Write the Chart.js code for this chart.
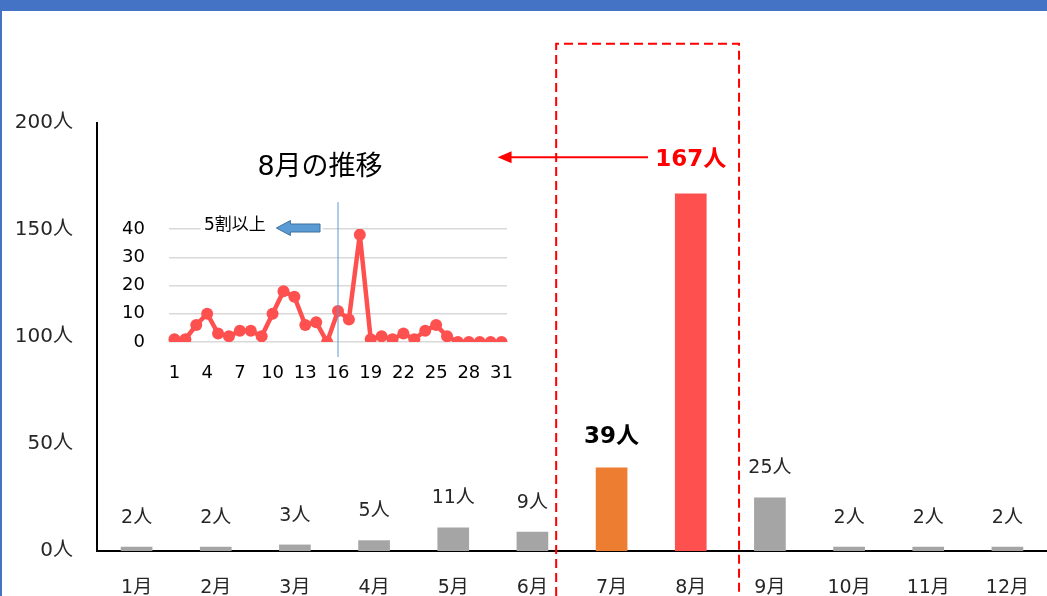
<!DOCTYPE html>
<html lang="ja">
<head>
<meta charset="utf-8">
<script src="https://cdn.jsdelivr.net/npm/chart.js@4.4.1/dist/chart.umd.min.js"></script>
<style>
  html, body { margin: 0; padding: 0; background: #fff; overflow: hidden; }
  #frame {
    position: relative;
    width: 1045px;
    height: 585px;
    border-top: 11px solid #4472C4;
    border-left: 2px solid #4472C4;
  }
  #main { position: absolute; left: 0; top: 0; }
  #inset { position: absolute; left: 98px; top: 129px; }
</style>
</head>
<body>
<div id="frame">
  <canvas id="main" width="1045" height="585"></canvas>
  <canvas id="inset" width="440" height="250"></canvas>
</div>
<script>
// monthly totals
const months = ['1月', '2月', '3月', '4月', '5月', '6月', '7月', '8月', '9月', '10月', '11月', '12月'];
const monthlyCounts = [2, 2, 3, 5, 11, 9, 39, 167, 25, 2, 2, 2];
const yMax = 200;
const yStep = 50;

// daily counts for August (inset)
const augustDays = ['1', '2', '3', '4', '5', '6', '7', '8', '9', '10', '11', '12', '13', '14', '15', '16',
  '17', '18', '19', '20', '21', '22', '23', '24', '25', '26', '27', '28', '29', '30', '31'];
const augustCounts = [1, 1, 6, 10, 3, 2, 4, 4, 2, 10, 18, 16, 6, 7, 0, 11, 8, 38, 1, 2, 1, 3, 1, 4, 6, 2, 0, 0, 0, 0, 0];
const insetMax = 40;
const insetStep = 10;

const FONT = "'DejaVu Sans', 'Noto Sans CJK JP', sans-serif";
const JULY = 6;
const AUGUST = 7;
const SPLIT_DAY = 15; // index of day 16

const GRAY = '#A5A5A5';
const ORANGE = '#ED7D31';
const RED = '#FF5050';

function barColor(i) {
  if (i === JULY) return ORANGE;
  if (i === AUGUST) return RED;
  return GRAY;
}

// labels, dashed box and arrow on the main chart
const mainNotes = {
  id: 'mainNotes',
  afterDatasetsDraw(chart) {
    const { ctx, scales: { x, y } } = chart;
    const bars = chart.getDatasetMeta(0).data;
    const arrowY = y.getPixelForValue(184);

    ctx.save();
    ctx.textAlign = 'center';
    ctx.textBaseline = 'middle';
    bars.forEach((bar, i) => {
      const text = monthlyCounts[i] + '人';
      if (i === AUGUST) {
        ctx.font = 'bold 23px ' + FONT;
        ctx.fillStyle = '#FF0000';
        ctx.fillText(text, bar.x, arrowY + 3);
      } else if (i === JULY) {
        ctx.font = 'bold 23px ' + FONT;
        ctx.fillStyle = '#000';
        ctx.fillText(text, bar.x, bar.y - 31);
      } else {
        ctx.font = '19px ' + FONT;
        ctx.fillStyle = '#262626';
        ctx.fillText(text, bar.x, bar.y - 29);
      }
    });

    // dashed box round July/August
    const left = x.getPixelForValue(5.3);
    const right = x.getPixelForValue(7.61);
    const top = y.getPixelForValue(237);
    ctx.strokeStyle = '#FF0000';
    ctx.lineWidth = 2;
    ctx.setLineDash([9, 5]);
    ctx.beginPath();
    ctx.moveTo(left, chart.height);
    ctx.lineTo(left, top);
    ctx.lineTo(right, top);
    ctx.lineTo(right, chart.height);
    ctx.stroke();

    // arrow pointing at the inset
    const tip = x.getPixelForValue(4.56);
    const tail = x.getPixelForValue(6.46);
    ctx.setLineDash([]);
    ctx.beginPath();
    ctx.moveTo(tail, arrowY);
    ctx.lineTo(tip + 12, arrowY);
    ctx.stroke();
    ctx.fillStyle = '#FF0000';
    ctx.beginPath();
    ctx.moveTo(tip, arrowY);
    ctx.lineTo(tip + 14, arrowY - 6);
    ctx.lineTo(tip + 14, arrowY + 6);
    ctx.closePath();
    ctx.fill();
    ctx.restore();
  }
};

new Chart(document.getElementById('main'), {
  type: 'bar',
  data: {
    labels: months,
    datasets: [{
      data: monthlyCounts,
      backgroundColor: monthlyCounts.map((v, i) => barColor(i)),
      barPercentage: 0.4,
      categoryPercentage: 1,
    }],
  },
  options: {
    responsive: false,
    animation: false,
    layout: { padding: { top: 112, right: 0, bottom: 0, left: 0 } },
    plugins: { legend: { display: false }, tooltip: { enabled: false } },
    scales: {
      x: {
        grid: { display: false, drawTicks: false },
        border: { display: true, color: '#000', width: 2 },
        ticks: { color: '#262626', font: { family: FONT, size: 19 }, padding: 26, maxRotation: 0 },
        afterFit(scale) {
          scale.height = 45;
          scale.paddingLeft = 0;
          scale.paddingRight = 0;
        },
      },
      y: {
        min: 0,
        max: yMax,
        grid: { display: false, drawTicks: false },
        border: { display: true, color: '#000', width: 2 },
        ticks: {
          stepSize: yStep,
          color: '#262626',
          font: { family: FONT, size: 20 },
          padding: 24,
          callback: v => v + '人',
        },
        afterFit(scale) { scale.width = 95; },
      },
    },
  },
  plugins: [mainNotes],
});

// title, split line and note on the inset
const insetNotes = {
  id: 'insetNotes',
  afterDraw(chart) {
    const { ctx, scales: { x, y } } = chart;
    ctx.save();
    ctx.textAlign = 'center';
    ctx.textBaseline = 'middle';
    ctx.fillStyle = '#000';
    ctx.font = '27px ' + FONT;
    ctx.fillText('8月の推移', chart.width / 2, 28);

    const sx = x.getPixelForValue(SPLIT_DAY);
    ctx.strokeStyle = '#5B9BD5';
    ctx.lineWidth = 1;
    ctx.beginPath();
    ctx.moveTo(sx, y.getPixelForValue(49.5));
    ctx.lineTo(sx, y.bottom + 15);
    ctx.stroke();

    // note box hides the top gridline behind it
    const noteY = y.getPixelForValue(insetMax);
    const boxL = x.getPixelForValue(2.4);
    const boxR = x.getPixelForValue(13.6);
    ctx.fillStyle = '#fff';
    ctx.fillRect(boxL, noteY - 10, boxR - boxL, 19);

    ctx.fillStyle = '#000';
    ctx.font = '17px ' + FONT;
    ctx.fillText('5割以上', x.getPixelForValue(5.55), noteY - 3);

    // block arrow pointing left
    const tx = x.getPixelForValue(9.35);
    const rx = x.getPixelForValue(13.35);
    const cy = noteY - 1;
    ctx.beginPath();
    ctx.moveTo(tx, cy);
    ctx.lineTo(tx + 14, cy - 7.5);
    ctx.lineTo(tx + 14, cy - 4);
    ctx.lineTo(rx, cy - 4);
    ctx.lineTo(rx, cy + 4);
    ctx.lineTo(tx + 14, cy + 4);
    ctx.lineTo(tx + 14, cy + 7.5);
    ctx.closePath();
    ctx.fillStyle = '#5B9BD5';
    ctx.fill();
    ctx.strokeStyle = '#41719C';
    ctx.stroke();
    ctx.restore();
  }
};

new Chart(document.getElementById('inset'), {
  type: 'line',
  data: {
    labels: augustDays,
    datasets: [{
      data: augustCounts,
      borderColor: RED,
      backgroundColor: RED,
      borderWidth: 4.5,
      pointRadius: 6,
      pointBackgroundColor: RED,
      pointBorderWidth: 0,
      tension: 0,
    }],
  },
  options: {
    responsive: false,
    animation: false,
    layout: { padding: { top: 89, right: 33, bottom: 0, left: 0 } },
    plugins: { legend: { display: false }, tooltip: { enabled: false } },
    scales: {
      x: {
        offset: true,
        grid: { display: false, drawTicks: false },
        border: { display: false },
        ticks: {
          autoSkip: false,
          maxRotation: 0,
          color: '#000',
          font: { family: FONT, size: 18 },
          padding: 21,
          callback(v, i) { return i % 3 === 0 ? this.getLabelForValue(v) : ''; },
        },
        afterFit(scale) {
          scale.height = 48;
          scale.paddingLeft = 0;
          scale.paddingRight = 0;
        },
      },
      y: {
        min: 0,
        max: insetMax,
        grid: { color: '#D9D9D9', lineWidth: 1.5, drawTicks: false },
        border: { display: false },
        ticks: { stepSize: insetStep, color: '#000', font: { family: FONT, size: 18 }, padding: 24 },
        afterFit(scale) { scale.width = 69; },
      },
    },
  },
  plugins: [insetNotes],
});
</script>
</body>
</html>
